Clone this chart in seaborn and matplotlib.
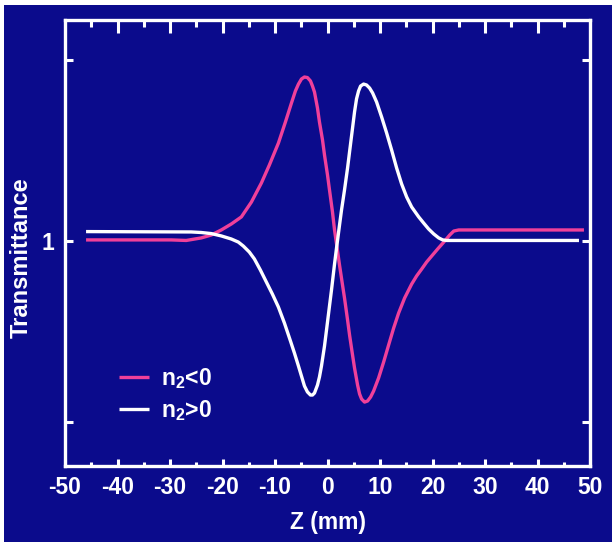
import numpy as np
import pandas as pd
import matplotlib
matplotlib.use("Agg")
import matplotlib.pyplot as plt
import seaborn as sns
from matplotlib.ticker import MultipleLocator, FixedLocator
from matplotlib.patches import Rectangle

# ---- data ----
z_neg = [-45.99, -29.77, -26.91, -24.05, -22.14, -20.23, -18.32, -16.41, -14.50, -12.60, -11.07, -9.35,
         -8.02, -6.87, -6.11, -5.53, -4.96, -4.39, -3.82, -3.24, -2.86, -2.48, -1.91, -1.53, -0.95,
         -0.57, 0.00, 0.38, 0.95, 1.34, 1.91, 2.29, 2.86, 3.24, 3.82, 4.20, 4.77, 5.15, 5.73, 6.11,
         6.49, 7.06, 7.63, 8.21, 8.78, 9.73, 10.69, 11.64, 12.60, 13.55, 14.69, 16.03, 16.98, 17.94,
         18.89, 19.85, 20.99, 22.33, 23.28, 24.05, 25.00, 48.85]
t_neg = [1.0006, 1.0006, 1.0003, 1.0017, 1.0033, 1.0061, 1.0094, 1.0133, 1.0215, 1.0320, 1.0420, 1.0541,
         1.0657, 1.0762, 1.0829, 1.0867, 1.0895, 1.0906, 1.0903, 1.0884, 1.0856, 1.0823, 1.0735, 1.0657, 1.0558,
         1.0475, 1.0365, 1.0282, 1.0160, 1.0061, 0.9945, 0.9867, 0.9757, 0.9685, 0.9564, 0.9481, 0.9370, 0.9298, 0.9204, 0.9155,
         0.9127, 0.9110, 0.9116, 0.9138, 0.9171, 0.9243, 0.9331, 0.9425, 0.9519, 0.9602, 0.9685, 0.9762, 0.9807, 0.9845,
         0.9884, 0.9917, 0.9956, 1.0000, 1.0033, 1.0055, 1.0061, 1.0061]

z_pos = [-45.99, -25.95, -24.05, -22.14, -20.23, -18.32, -16.98, -16.03, -14.89, -13.93, -12.79, -11.64,
         -10.50, -9.35, -8.21, -7.06, -6.30, -5.53, -4.96, -4.39, -3.82, -3.24, -2.86, -2.48, -1.91,
         -1.53, -1.15, -0.57, -0.19, 0.38, 0.76, 1.34, 1.72, 2.29, 2.67, 3.24, 3.82, 4.20, 4.77, 5.15,
         5.53, 5.92, 6.30, 6.87, 7.44, 8.02, 8.59, 9.35, 10.31, 11.26, 12.21, 13.17, 14.12, 15.08,
         16.03, 17.37, 18.32, 19.27, 20.23, 21.18, 21.95, 22.71, 47.90]
t_pos = [1.0052, 1.0050, 1.0047, 1.0041, 1.0028, 1.0011, 0.9994, 0.9972, 0.9939, 0.9901, 0.9840, 0.9773,
         0.9707, 0.9635, 0.9547, 0.9448, 0.9381, 0.9309, 0.9254, 0.9199, 0.9166, 0.9149, 0.9149, 0.9160, 0.9204,
         0.9249, 0.9309, 0.9420, 0.9508, 0.9641, 0.9729, 0.9873, 0.9961, 1.0088, 1.0171, 1.0282, 1.0403, 1.0492, 1.0624, 1.0713,
         1.0785, 1.0829, 1.0856, 1.0867, 1.0862, 1.0845, 1.0818, 1.0768, 1.0685, 1.0597, 1.0503, 1.0403, 1.0315, 1.0243,
         1.0188, 1.0133, 1.0099, 1.0066, 1.0039, 1.0017, 1.0006, 1.0003, 1.0003]

labels = ["n$_{2}$<0", "n$_{2}$>0"]
x_ticks = [-50, -40, -30, -20, -10, 0, 10, 20, 30, 40, 50]
y_ticks = [0.9, 1.0, 1.1]
y_ticklabels = ["", "1", ""]

df = pd.concat([
    pd.DataFrame({"z": z_neg, "T": t_neg, "case": labels[0]}),
    pd.DataFrame({"z": z_pos, "T": t_pos, "case": labels[1]}),
], ignore_index=True)

# ---- style ----
sns.set_theme(style="white")
main_font = "Liberation Sans"
plt.rcParams["font.family"] = [main_font, "DejaVu Sans"]
plt.rcParams["font.weight"] = "bold"
plt.rcParams["mathtext.fontset"] = "custom"
plt.rcParams["mathtext.rm"] = main_font + ":bold"
plt.rcParams["mathtext.it"] = main_font + ":bold"
plt.rcParams["mathtext.bf"] = main_font + ":bold"

BG = "#0b0b8c"
PINK = "#f0409a"
WHITE = "#ffffff"

fig = plt.figure(figsize=(6.15, 5.46), dpi=100)
fig.patch.set_facecolor("white")
bg_rect = Rectangle((4 / 615, 4 / 546), 608 / 615, 537 / 546,
                    transform=fig.transFigure, facecolor=BG, edgecolor="none", zorder=-10)
fig.patches.append(bg_rect)

ax = fig.add_axes([65 / 615, 1 - 466 / 546, 525 / 615, 446 / 546])
ax.set_zorder(5)
ax.set_facecolor(BG)

sns.lineplot(data=df, x="z", y="T", hue="case", palette=[PINK, WHITE], sort=False,
             linewidth=2.4, ax=ax, legend=True, solid_joinstyle="round", solid_capstyle="butt")

ax.set_xlim(-50, 50)
ax.set_ylim(1 - 225 / 1810, 1 + 221 / 1810)

for s in ax.spines.values():
    s.set_color("white")
    s.set_linewidth(2.4)

ax.xaxis.set_major_locator(FixedLocator(x_ticks))
ax.xaxis.set_minor_locator(MultipleLocator(5))
ax.yaxis.set_major_locator(FixedLocator(y_ticks))
ax.set_xticklabels([str(v) for v in x_ticks])
ax.set_yticklabels(y_ticklabels)

ax.tick_params(axis="x", which="major", direction="in", length=5, width=2.2, color="white",
               labelcolor="white", labelsize=16.5, pad=7, bottom=True, top=False)
ax.tick_params(axis="x", which="minor", direction="in", length=3, width=2.2, color="white",
               bottom=True, top=False)
ax.tick_params(axis="y", which="major", direction="in", length=6, width=2.2, color="white",
               labelcolor="white", labelsize=16.5, pad=8, left=True, right=True)

sec = ax.secondary_xaxis("top")
sec.xaxis.set_major_locator(FixedLocator(x_ticks[1:-1]))
sec.xaxis.set_minor_locator(FixedLocator([v + 5 for v in x_ticks[:-1]]))
sec.tick_params(axis="x", which="major", direction="in", length=9, width=2.2, color="white",
                labeltop=False)
sec.tick_params(axis="x", which="minor", direction="in", length=5, width=2.2, color="white")
sec.spines["top"].set_visible(False)

ax.set_xlabel("Z (mm)", color="white", fontsize=16.5, fontweight="bold", labelpad=9)
ax.set_ylabel("Transmittance", color="white", fontsize=17, fontweight="bold")
ax.yaxis.label.set_verticalalignment("center")
ax.yaxis.set_label_coords(-0.084, 0.466)

leg = ax.legend(title=None, frameon=False, loc="upper left", bbox_to_anchor=(0.085, 0.245),
                handlelength=1.3, handletextpad=0.55, labelspacing=0.3, fontsize=16.5,
                borderaxespad=0)
for t in leg.get_texts():
    t.set_color("white")
    t.set_fontweight("bold")

fig.savefig("out.png", dpi=100, facecolor=fig.get_facecolor())
